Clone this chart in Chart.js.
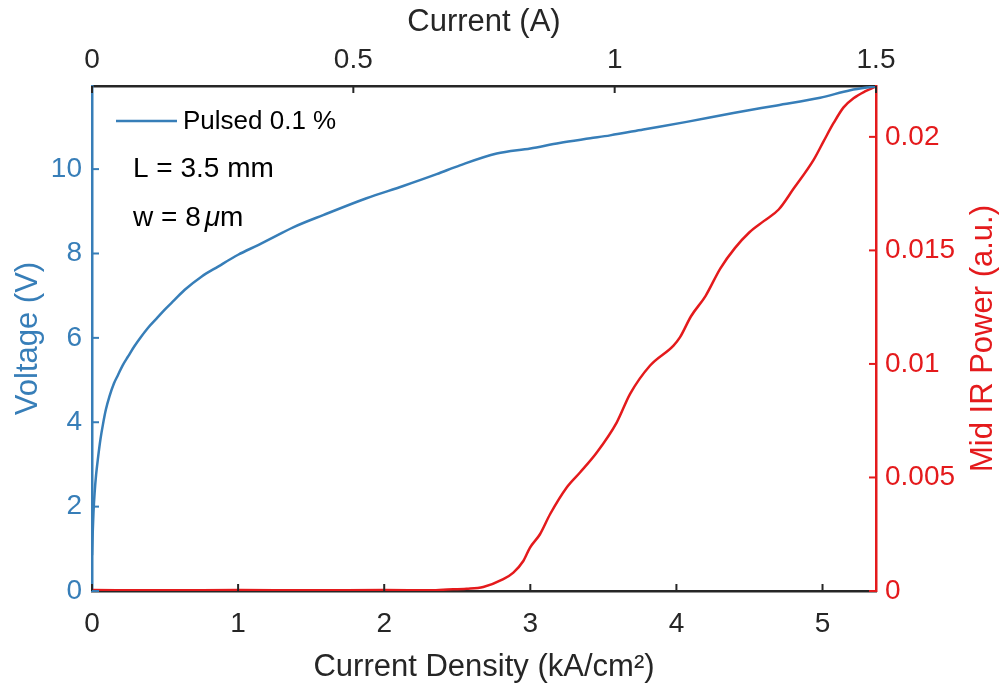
<!DOCTYPE html>
<html>
<head>
<meta charset="utf-8">
<script src="https://cdn.jsdelivr.net/npm/chart.js@4/dist/chart.umd.min.js"></script>
<style>
  body { margin: 0; background: #fff; }
  #wrap { width: 1002px; height: 692px; }
</style>
</head>
<body>
<div id="wrap"><canvas id="myChart" width="1002" height="692"></canvas></div>
<script>
// current density (kA/cm^2) and voltage (V)
const voltageJ = [0, 0.005, 0.01, 0.018, 0.028, 0.041, 0.058, 0.075, 0.095, 0.12, 0.15, 0.178, 0.21, 0.247, 0.29, 0.335, 0.384, 0.44, 0.498, 0.565, 0.635, 0.749, 0.863, 1.0, 1.137, 1.217, 1.377, 1.582, 1.879, 2.13, 2.359, 2.518, 2.77, 3.0, 3.2, 3.41, 3.546, 3.774, 4.07, 4.39, 4.688, 4.984, 5.19, 5.36];
const voltageV = [0.85, 1.4, 1.85, 2.33, 2.75, 3.15, 3.6, 3.95, 4.3, 4.62, 4.92, 5.12, 5.35, 5.56, 5.8, 6.02, 6.24, 6.45, 6.67, 6.9, 7.14, 7.45, 7.69, 7.97, 8.2, 8.34, 8.62, 8.91, 9.31, 9.6, 9.88, 10.09, 10.37, 10.49, 10.62, 10.73, 10.8, 10.94, 11.12, 11.33, 11.51, 11.69, 11.87, 11.96];

// current density (kA/cm^2) and mid IR power (a.u.)
const powerJ = [0, 0.5, 1.0, 1.5, 2.0, 2.336, 2.404, 2.564, 2.678, 2.815, 2.884, 2.952, 2.998, 3.066, 3.135, 3.249, 3.34, 3.455, 3.592, 3.683, 3.82, 3.98, 4.025, 4.1, 4.2, 4.3, 4.4, 4.5, 4.6, 4.7, 4.8, 4.94, 5.007, 5.075, 5.144, 5.212, 5.29, 5.36];
const powerP = [0.00004, 0.00003, 0.00004, 0.00003, 0.00004, 0.00003, 0.00006, 0.0001, 0.00018, 0.00052, 0.00081, 0.00132, 0.00191, 0.0025, 0.00338, 0.00456, 0.00522, 0.0061, 0.00743, 0.00868, 0.00993, 0.01081, 0.01118, 0.0121, 0.013, 0.0142, 0.0151, 0.0158, 0.0163, 0.0168, 0.0177, 0.019, 0.0198, 0.0206, 0.0213, 0.0217, 0.022, 0.0222];

const densityTicks = [0, 1, 2, 3, 4, 5];
const currentTicks = [0, 0.5, 1, 1.5];
const voltageTicks = [0, 2, 4, 6, 8, 10];
const powerTicks = [0, 0.005, 0.01, 0.015, 0.02];

const blue = 'rgb(55, 126, 184)';
const red = 'rgb(228, 26, 28)';
const dark = '#262626';
const fam = '"Liberation Sans", Arial, sans-serif';

Chart.defaults.font.family = fam;

const pick = list => scale => { scale.ticks = list.map(v => ({ value: v })); };
const plain = v => String(+(+v).toFixed(3));

// MATLAB style ticks pointing into the box
const inwardTicks = {
    id: 'inwardTicks',
    afterDraw(chart) {
        const ctx = chart.ctx, a = chart.chartArea, len = 7;
        ctx.save();
        ctx.lineWidth = 2;
        ['x', 'x2', 'y', 'y2'].forEach(id => {
            const s = chart.scales[id];
            ctx.strokeStyle = s.options.border.color;
            s.ticks.forEach(t => {
                const p = s.getPixelForValue(t.value);
                ctx.beginPath();
                if (id === 'x') { ctx.moveTo(p, a.bottom); ctx.lineTo(p, a.bottom - len); }
                if (id === 'x2') { ctx.moveTo(p, a.top); ctx.lineTo(p, a.top + len); }
                if (id === 'y') { ctx.moveTo(a.left, p); ctx.lineTo(a.left + len, p); }
                if (id === 'y2') { ctx.moveTo(a.right, p); ctx.lineTo(a.right - len, p); }
                ctx.stroke();
            });
        });

        // right axis title, rotated the MATLAB way
        ctx.fillStyle = red;
        ctx.font = '31px ' + fam;
        ctx.textAlign = 'center';
        ctx.textBaseline = 'middle';
        ctx.translate(983, (a.top + a.bottom) / 2);
        ctx.rotate(-Math.PI / 2);
        ctx.fillText('Mid IR Power (a.u.)', 0, 0);
        ctx.restore();

        // legend + notes
        ctx.save();
        ctx.strokeStyle = chart.data.datasets[0].borderColor;
        ctx.lineWidth = 2.5;
        ctx.beginPath();
        ctx.moveTo(116, 121);
        ctx.lineTo(177, 121);
        ctx.stroke();
        ctx.fillStyle = '#000';
        ctx.textBaseline = 'middle';
        ctx.textAlign = 'left';
        ctx.font = '26px ' + fam;
        ctx.fillText(chart.data.datasets[0].label, 183, 122);
        ctx.font = '28px ' + fam;
        ctx.fillText('L = 3.5 mm', 133, 169);
        let x = 133;
        ctx.fillText('w = 8', x, 218);
        x += ctx.measureText('w = 8').width + 4;
        ctx.font = 'italic 28px ' + fam;
        ctx.fillText('\u03bc', x, 218);
        x += ctx.measureText('\u03bc').width;
        ctx.font = '28px ' + fam;
        ctx.fillText('m', x, 218);
        ctx.restore();
    }
};

const ctx = document.getElementById('myChart').getContext('2d');
const myChart = new Chart(ctx, {
    type: 'line',
    data: {
        datasets: [{
            label: 'Pulsed 0.1 %',
            data: voltageJ.map((j, i) => ({ x: j, y: voltageV[i] })),
            borderColor: blue,
            borderWidth: 2.5,
            pointRadius: 0,
            cubicInterpolationMode: 'monotone',
            xAxisID: 'x',
            yAxisID: 'y'
        }, {
            label: 'Mid IR Power',
            data: powerJ.map((j, i) => ({ x: j, y: powerP[i] })),
            borderColor: red,
            borderWidth: 2.5,
            pointRadius: 0,
            cubicInterpolationMode: 'monotone',
            xAxisID: 'x',
            yAxisID: 'y2'
        }]
    },
    options: {
        responsive: false,
        animation: false,
        layout: { padding: 0 },
        plugins: { legend: { display: false }, tooltip: { enabled: false } },
        scales: {
            x: {
                type: 'linear', position: 'bottom', min: 0, max: 5.366,
                grid: { display: false, drawTicks: false },
                border: { color: dark, width: 2.5 },
                ticks: { color: dark, font: { size: 28 }, padding: 16, autoSkip: false, callback: plain },
                afterBuildTicks: pick(densityTicks),
                title: { display: true, text: 'Current Density (kA/cm\u00b2)', color: dark, font: { size: 31 }, padding: { bottom: 6 } },
                afterFit: s => { s.height = 101; }
            },
            x2: {
                type: 'linear', position: 'top', min: 0, max: 1.5,
                grid: { display: false, drawTicks: false },
                border: { color: dark, width: 2.5 },
                ticks: { color: dark, font: { size: 28 }, padding: 9, autoSkip: false, callback: plain },
                afterBuildTicks: pick(currentTicks),
                title: { display: true, text: 'Current (A)', color: dark, font: { size: 31 }, padding: { top: 4 } },
                afterFit: s => { s.height = 86; }
            },
            y: {
                type: 'linear', position: 'left', min: 0, max: 11.97,
                grid: { display: false, drawTicks: false },
                border: { color: blue, width: 2.5 },
                ticks: { color: blue, font: { size: 28 }, padding: 10, autoSkip: false, callback: plain },
                afterBuildTicks: pick(voltageTicks),
                title: { display: true, text: 'Voltage (V)', color: blue, font: { size: 31 }, padding: { top: 10 } },
                afterFit: s => { s.width = 92; }
            },
            y2: {
                type: 'linear', position: 'right', min: 0, max: 0.02224,
                grid: { display: false, drawTicks: false },
                border: { color: red, width: 2.5 },
                ticks: { color: red, font: { size: 28 }, padding: 9, autoSkip: false, callback: plain },
                afterBuildTicks: pick(powerTicks),
                afterFit: s => { s.width = 126; }
            }
        }
    },
    plugins: [inwardTicks]
});
</script>
</body>
</html>
